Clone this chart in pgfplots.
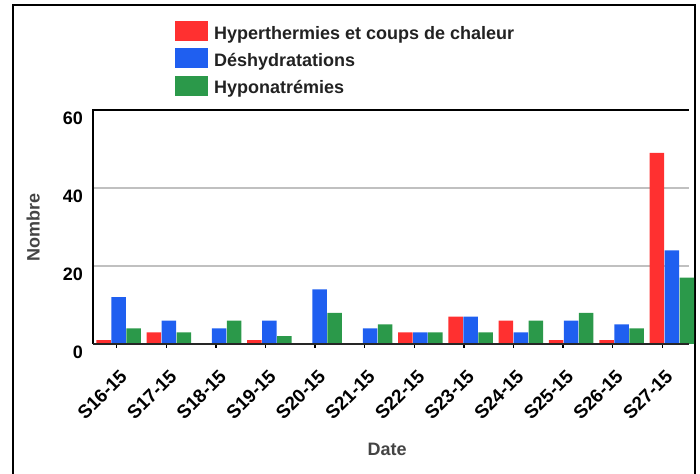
\documentclass[border=0pt]{standalone}
\usepackage{fontspec}
\setmainfont{Liberation Sans}
\usepackage{pgfplots}
\pgfplotsset{compat=1.18}
\definecolor{cred}{RGB}{255,48,48}
\definecolor{cblue}{RGB}{31,95,240}
\definecolor{cgreen}{RGB}{43,153,74}
\definecolor{cgrid}{RGB}{192,192,192}
\definecolor{ctitle}{RGB}{68,68,68}
\definecolor{clegend}{RGB}{34,34,34}
\newcommand\lab{\fontsize{18}{21}\selectfont\bfseries}
\newcommand\xlab{\fontsize{18.8}{21}\selectfont\bfseries}
\pgfplotsset{myleg/.style={legend image code/.code={\fill[##1,draw=none] (0pt,-7.8pt) rectangle (33pt,12.2pt);}}}
\begin{document}
\begin{tikzpicture}
\useasboundingbox (0pt,0pt) rectangle (700pt,473pt);
\draw[line width=2pt] (12.7pt,-2pt) -- (12.7pt,468pt) -- (695pt,468pt) -- (695pt,-2pt);
\begin{axis}[
  at={(93pt,129pt)}, anchor=south west,
  width=596pt, height=234pt, scale only axis,
  xmin=-0.507, xmax=11.342, ymin=0, ymax=60,
  clip=false,
  ybar=0.5pt, bar width=14.5pt,
  axis line style={draw=none},
  ytick={0,20,40,60},
  ymajorgrids, major grid style={color=cgrid, line width=2pt},
  xtick={-0.036,0.950,1.936,2.922,3.908,4.894,5.880,6.866,7.852,8.838,9.824,10.810},
  xticklabels={S16-15,S17-15,S18-15,S19-15,S20-15,S21-15,S22-15,S23-15,S24-15,S25-15,S26-15,S27-15},
  tick align=outside, major tick length=4pt,
  xtick style={black, line width=1.5pt},
  ytick style={draw=none},
  xtick pos=bottom, ytick pos=left,
  /pgf/number format/assume math mode=true,
  yticklabel style={font=\lab, inner sep=0pt, xshift=-6pt, yshift=-8.5pt},
  x tick label style={font=\xlab, inner sep=0pt, xshift=7pt, yshift=-25pt, rotate=45, anchor=east},
  ylabel={Nombre}, xlabel={Date},
  ylabel style={font=\lab, text=ctitle, at={(axis description cs:-0.1005,0.5)}, anchor=center},
  xlabel style={font=\lab, text=ctitle, at={(axis description cs:0.4933,-0.449)}, anchor=center},
  legend style={at={(axis description cs:0.1376,1.3795)}, anchor=north west,
    draw=none, fill=none, inner sep=0pt, outer sep=0pt,
    font=\lab, text=clegend, column sep=4pt, row sep=5.7pt,
    nodes={inner sep=2pt}},
  legend cell align=left,
]
\addplot[fill=cred, draw=none, myleg] coordinates {(0,1) (1,3) (2,0) (3,1) (4,0) (5,0) (6,3) (7,7) (8,6) (9,1) (10,1) (11,49)};
\addplot[fill=cblue, draw=none, myleg] coordinates {(0,12) (1,6) (2,4) (3,6) (4,14) (5,4) (6,3) (7,7) (8,3) (9,6) (10,5) (11,24)};
\addplot[fill=cgreen, draw=none, myleg] coordinates {(0,4) (1,3) (2,6) (3,2) (4,8) (5,5) (6,3) (7,3) (8,6) (9,8) (10,4) (11,17)};
\legend{Hyperthermies et coups de chaleur, Déshydratations, Hyponatrémies}
\draw[black, line width=2pt] (rel axis cs:0,0) -- (rel axis cs:0,1) -- (rel axis cs:1,1);
\draw[black!85, line width=2pt] (rel axis cs:0,0) -- (rel axis cs:1,0);
\end{axis}
\end{tikzpicture}
\end{document}
